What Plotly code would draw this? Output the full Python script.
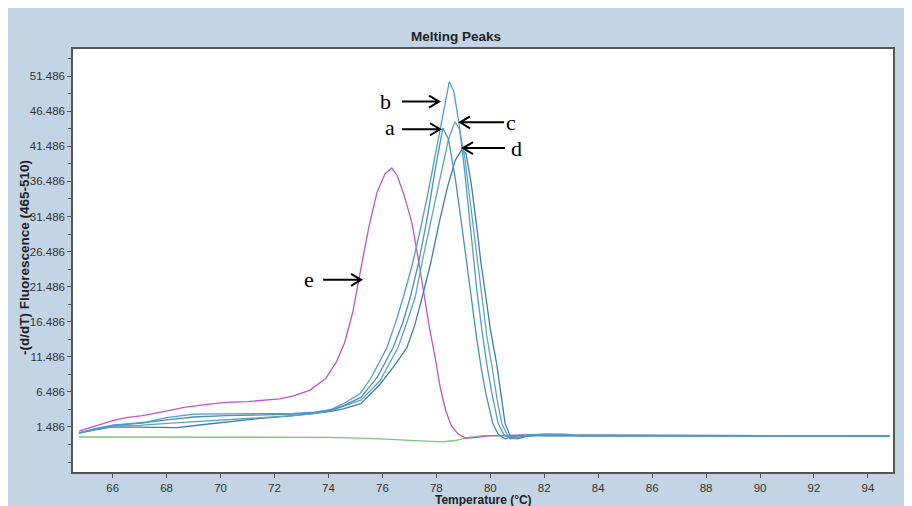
import plotly.graph_objects as go

# ---------------- data ----------------
x_ticks = [66, 68, 70, 72, 74, 76, 78, 80, 82, 84, 86, 88, 90, 92, 94]
x_tick_text = [str(v) for v in x_ticks]
y_ticks = [1.486, 6.486, 11.486, 16.486, 21.486, 26.486, 31.486, 36.486, 41.486, 46.486, 51.486]
y_tick_text = ["1.486", "6.486", "11.486", "16.486", "21.486", "26.486",
               "31.486", "36.486", "41.486", "46.486", "51.486"]

# negative control (green)
g_x = [64.75, 67.0, 70.0, 72.0, 74.0, 75.5, 76.5, 77.5, 78.2, 78.7, 79.2, 79.7, 80.5, 94.8]
g_y = [0.05, 0.05, 0.05, 0.02, 0.0, -0.15, -0.3, -0.55, -0.65, -0.45, 0.0, 0.25, 0.2, 0.2]

# curve e (magenta)
e_x = [64.75, 65.2, 65.6, 66.0, 66.5, 67.1, 67.8, 68.7, 69.5, 70.2, 71.0, 71.6, 72.2, 72.7,
       73.3, 73.9, 74.3, 74.6, 74.9, 75.2, 75.5, 75.8, 76.1, 76.35, 76.55, 76.8, 77.1, 77.35,
       77.55, 77.75, 77.95, 78.15, 78.35, 78.55, 78.8, 79.1, 79.5, 80.0, 81.0, 94.8]
e_y = [0.9, 1.4, 1.9, 2.4, 2.8, 3.1, 3.6, 4.3, 4.7, 5.0, 5.1, 5.25, 5.5, 5.9,
       6.7, 8.4, 10.8, 13.5, 17.8, 24.0, 30.0, 34.9, 37.6, 38.4, 37.3, 34.6, 30.5, 25.0,
       20.0, 15.5, 11.5, 7.0, 3.8, 1.7, 0.5, -0.15, 0.0, 0.25, 0.3, 0.2]

# curve a
a_x = [64.75, 65.3, 66.0, 67.0, 68.0, 69.0, 70.2, 71.5, 72.7, 73.5, 74.1, 74.6, 75.2, 75.8,
       76.4, 76.75, 77.03, 77.35, 77.65, 77.95, 78.24, 78.45, 78.7, 78.95, 79.15, 79.31, 79.5,
       79.68, 79.85, 80.1, 80.3, 80.55, 80.8, 81.1, 81.5, 82.0, 94.8]
a_y = [0.6, 1.15, 1.7, 2.0, 2.5, 2.9, 3.1, 3.2, 3.3, 3.5, 3.9, 4.6, 5.7, 8.5,
       12.8, 16.3, 19.9, 25.0, 31.0, 38.0, 44.1, 42.5, 37.0, 30.0, 24.0, 19.9, 14.0,
       9.5, 6.0, 1.9, 0.4, -0.2, 0.0, 0.3, 0.35, 0.25, 0.2]

# curve b
b_x = [64.75, 65.3, 66.0, 66.6, 67.2, 68.0, 69.0, 70.2, 71.5, 72.7, 73.5, 74.1, 74.6, 75.17,
       75.6, 76.17, 76.5, 76.77, 77.1, 77.4, 77.7, 78.0, 78.25, 78.48, 78.65, 78.85, 79.05,
       79.25, 79.5, 79.7, 79.87, 80.05, 80.29, 80.5, 80.75, 81.0, 81.4, 82.0, 82.8, 83.3, 94.8]
b_y = [0.6, 1.2, 1.75, 2.0, 2.15, 2.8, 3.3, 3.35, 3.35, 3.4, 3.6, 4.0, 4.9, 6.2,
       8.6, 12.8, 16.5, 19.9, 24.5, 29.5, 35.0, 41.0, 46.5, 50.7, 49.3, 44.5, 38.0,
       30.5, 21.0, 15.0, 10.4, 6.5, 2.0, 0.4, -0.2, 0.0, 0.3, 0.5, 0.45, 0.2, 0.2]

# curve c
c_x = [64.75, 65.3, 66.0, 67.0, 68.0, 69.0, 70.2, 71.5, 72.7, 73.5, 74.1, 74.6, 75.2, 75.9,
       76.58, 76.9, 77.21, 77.5, 77.83, 78.15, 78.45, 78.69, 78.85, 79.05, 79.3, 79.5, 79.68,
       79.87, 80.05, 80.25, 80.43, 80.65, 80.9, 81.2, 81.6, 82.2, 94.8]
c_y = [0.6, 1.1, 1.6, 1.7, 2.0, 2.2, 2.5, 2.8, 3.1, 3.4, 3.8, 4.5, 5.3, 8.0,
       12.8, 16.3, 19.9, 25.5, 31.5, 37.5, 42.5, 45.0, 44.0, 40.0, 32.0, 26.0, 19.9,
       14.5, 10.4, 5.5, 1.95, 0.2, -0.2, 0.1, 0.3, 0.3, 0.2]

# curve d
d_x = [64.75, 65.3, 66.0, 66.9, 67.6, 68.4, 69.3, 70.2, 71.5, 72.7, 73.5, 74.1, 74.55, 75.2,
       75.9, 76.5, 76.91, 77.2, 77.47, 77.8, 78.1, 78.4, 78.7, 78.94, 79.1, 79.3, 79.5, 79.65,
       79.84, 80.0, 80.24, 80.4, 80.55, 80.75, 81.0, 81.3, 81.7, 82.3, 94.8]
d_y = [0.6, 1.05, 1.5, 1.5, 1.45, 1.4, 1.8, 2.2, 2.7, 3.1, 3.4, 3.7, 4.07, 4.8,
       7.5, 10.5, 12.8, 16.0, 19.9, 25.0, 30.5, 35.5, 39.5, 41.0, 40.5, 36.0, 30.0, 25.0,
       19.9, 15.5, 10.4, 6.0, 1.95, 0.1, -0.2, 0.1, 0.3, 0.3, 0.2]

# peak labels and arrows (arrow head position, signed shaft length in px)
label_text = ["a", "b", "c", "d", "e"]
label_x = [76.28, 76.13, 80.77, 80.96, 73.28]
label_y = [44.2, 47.88, 44.92, 41.25, 22.46]
arrow_x = [78.14, 78.10, 78.88, 78.99, 75.21]
arrow_y = [43.93, 47.88, 44.92, 41.25, 22.46]
arrow_len = [38, 37, -44, -42, 38]

# ---------------- figure ----------------
fig = go.Figure()

series = [
    ("neg", g_x, g_y, "#7CC77C"),
    ("e", e_x, e_y, "#C255C6"),
    ("d", d_x, d_y, "#3F7EAA"),
    ("c", c_x, c_y, "#62A3C4"),
    ("a", a_x, a_y, "#4E90B2"),
    ("b", b_x, b_y, "#4C9CD8"),
]
for name, xs, ys, col in series:
    fig.add_trace(go.Scatter(x=xs, y=ys, mode="lines", name=name,
                             line=dict(color=col, width=1.3), showlegend=False,
                             hoverinfo="x+y"))

shapes = []
for ax_, ay_, ln in zip(arrow_x, arrow_y, arrow_len):
    s = 1 if ln > 0 else -1
    path = f"M {-ln} 0 L 0 0 M {-s*10} -6 L 0 0 L {-s*10} 6"
    shapes.append(dict(type="path", xref="x", yref="y", xsizemode="pixel", ysizemode="pixel",
                       xanchor=ax_, yanchor=ay_, path=path,
                       line=dict(color="black", width=2)))

annotations = []
for t, lx, ly in zip(label_text, label_x, label_y):
    annotations.append(dict(x=lx, y=ly, xref="x", yref="y", text=t, showarrow=False,
                            font=dict(family="Liberation Serif, Times New Roman, serif",
                                      size=22, color="black"),
                            xanchor="center", yanchor="middle"))

annotations.append(dict(x=0.467, y=1.03, xref="paper", yref="paper", text="Melting Peaks",
                        showarrow=False, xanchor="center", yanchor="middle",
                        font=dict(family="Liberation Sans, Arial, sans-serif", size=13.5,
                                  color="#222", weight="bold")))
annotations.append(dict(x=-0.0585, y=0.506, xref="paper", yref="paper",
                        text="-(d/dT) Fluorescence (465-510)", textangle=-90,
                        showarrow=False, xanchor="center", yanchor="middle",
                        font=dict(family="Liberation Sans, Arial, sans-serif", size=13.5,
                                  color="#222", weight="bold")))
annotations.append(dict(x=0.501, y=-0.067, xref="paper", yref="paper",
                        text="Temperature (°C)", showarrow=False, borderpad=0,
                        xanchor="center", yanchor="middle",
                        font=dict(family="Liberation Sans, Arial, sans-serif", size=12,
                                  color="#222", weight="bold")))

axis_common = dict(showgrid=False, zeroline=False, showline=True, mirror=True,
                   linecolor="#555555", linewidth=1.5, ticks="outside", ticklen=4,
                   tickcolor="#555555", tickwidth=1,
                   tickfont=dict(family="Liberation Sans, Arial, sans-serif", size=11.5,
                                 color="#333333"))

fig.update_layout(
    width=904, height=498,
    margin=dict(l=65, r=19, t=41, b=30),
    paper_bgcolor="#C3D4E4",
    plot_bgcolor="white",
    shapes=shapes,
    annotations=annotations,
    xaxis=dict(range=[64.53, 94.93], tickmode="array", tickvals=x_ticks,
               ticktext=x_tick_text, **axis_common),
    yaxis=dict(range=[-4.94, 55.37], tickmode="array", tickvals=y_ticks,
               ticktext=y_tick_text,
               minor=dict(ticks="outside", ticklen=3, tick0=1.486, dtick=2.5,
                          tickcolor="#555555"),
               **axis_common),
)

fig.write_html("out.html")
